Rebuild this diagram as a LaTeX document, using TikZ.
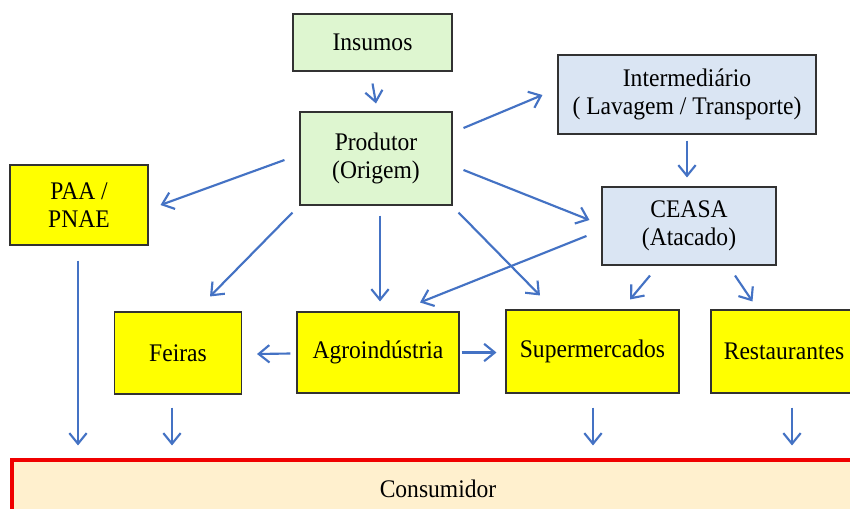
\documentclass[tikz,border=0pt]{standalone}
\usepackage{fontspec}
\setmainfont[FakeStretch=0.93]{Liberation Serif}
\usetikzlibrary{arrows.meta,calc}

\definecolor{boxline}{RGB}{50,50,50}
\definecolor{prodgreen}{RGB}{222,246,208}
\definecolor{logblue}{RGB}{218,229,243}
\definecolor{canalyellow}{RGB}{255,255,0}
\definecolor{consfill}{RGB}{255,240,206}
\definecolor{consred}{RGB}{240,0,0}
\definecolor{arrowblue}{RGB}{68,114,196}

\tikzset{
  box/.style={draw=boxline, line width=0.8pt, align=center, inner sep=0pt,
    font=\fontsize{19}{21}\selectfont},
  boxsize/.style 2 args={minimum width=#1*0.75pt, minimum height=#2*0.75pt},
  prodbox/.style={box, fill=prodgreen},
  logbox/.style={box, fill=logblue},
  canalbox/.style={box, fill=canalyellow},
  fluxo/.style={draw=arrowblue, line width=1.6pt,
    -{Straight Barb[length=8pt,width=13pt]}}
}

\begin{document}
\begin{tikzpicture}[x=0.75pt,y=0.75pt,yscale=-1,xscale=1]
\clip (0,0) rectangle (850,508);
\fill[white] (0,0) rectangle (850,508);

%Shape: Rectangle [Insumos]
\node[prodbox, boxsize={159}{57}] (insumos) at (372.5,42.5) {Insumos};
%Shape: Rectangle [Produtor]
\node[prodbox, boxsize={152}{93}] (produtor) at (376,158.5) {Produtor\\(Origem)};
%Shape: Rectangle [Intermediario]
\node[logbox, boxsize={258}{79}] (intermed) at (687,94.5) {Intermedi\'ario\\( Lavagem / Transporte)};
%Shape: Rectangle [CEASA]
\node[logbox, boxsize={174}{78}] (ceasa) at (689,226) {CEASA\\(Atacado)};
%Shape: Rectangle [PAA]
\node[canalbox, boxsize={138}{80}] (paa) at (79,205) {PAA /\\PNAE};
%Shape: Rectangle [Feiras]
\node[canalbox, boxsize={127}{82}] (feiras) at (178,353) {Feiras};
%Shape: Rectangle [Agroindustria]
\node[canalbox, boxsize={162}{81}] (agro) at (378,352.5) {Agroind\'ustria};
%Shape: Rectangle [Supermercados]
\node[canalbox, boxsize={173}{83}] (super) at (592.5,351.5) {Supermercados};
%Shape: Rectangle [Restaurantes]
\node[canalbox, boxsize={146}{83}] (rest) at (784,351.5) {Restaurantes};
%Shape: Rectangle [Consumidor]
\node[box, draw=consred, line width=2.3pt, fill=consfill, boxsize={852}{58}] (cons) at (438,489) {Consumidor};

%Straight Lines
\draw[fluxo] ($(insumos.south)+(0,12)$) -- ($(produtor.north)+(0,-8)$);
\draw[fluxo] ($(produtor.east)+(11,-30.5)$) -- ($(intermed.west)+(-15,0.5)$);
\draw[fluxo] ($(produtor.west)+(-15,1.5)$) -- ($(paa.east)+(12,0)$);
\draw[fluxo] ($(produtor.east)+(11,11.5)$) -- ($(ceasa.west)+(-12,-6)$);
\draw[fluxo] ($(produtor.south west)+(-7,7)$) -- ($(feiras.north)+(32,-15)$);
\draw[fluxo] ($(produtor.south)+(4,10)$) -- ($(agro.north)+(2,-10)$);
\draw[fluxo] ($(produtor.south east)+(6,7)$) -- ($(super.north)+(-52.5,-14)$);
\draw[fluxo] ($(intermed.south)+(0,6)$) -- ($(ceasa.north)+(-2,-9)$);
\draw[fluxo] ($(ceasa.west)+(-15,10)$) -- ($(agro.north)+(42,-9)$);
\draw[fluxo] ($(ceasa.south)+(-39,10)$) -- ($(super.north)+(37.5,-10)$);
\draw[fluxo] ($(ceasa.south)+(46,10)$) -- ($(rest.north)+(-31.5,-8)$);
\draw[fluxo] ($(agro.west)+(-6,1)$) -- ($(feiras.east)+(15,1)$);
\draw[fluxo] ($(agro.east)+(2,0)$) -- ($(super.west)+(-9,1)$);

%Straight Lines [to consumidor]
\draw[fluxo] ($(paa.south)+(-1,15)$) -- ($(paa.south |- cons.north)+(-1,-13)$);
\draw[fluxo] ($(feiras.south)+(-6,13)$) -- ($(feiras.south |- cons.north)+(-6,-13)$);
\draw[fluxo] ($(super.south)+(0.5,14)$) -- ($(super.south |- cons.north)+(0.5,-13)$);
\draw[fluxo] ($(rest.south)+(8,14)$) -- ($(rest.south |- cons.north)+(8,-13)$);

\end{tikzpicture}
\end{document}
